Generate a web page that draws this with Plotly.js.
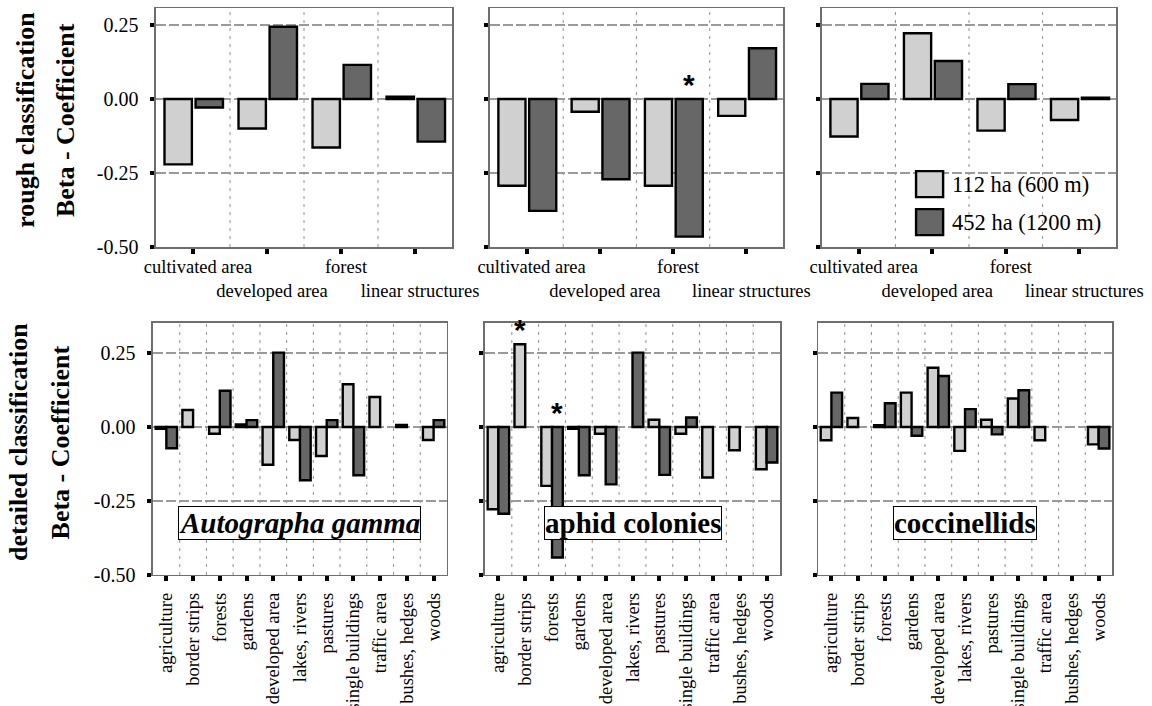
<!DOCTYPE html>
<html>
<head>
<meta charset="utf-8">
<script src="https://cdn.plot.ly/plotly-3.0.1.min.js"></script>
<style>
  html, body { margin: 0; padding: 0; background: #fff; }
  #chart { width: 1152px; height: 706px; }
</style>
</head>
<body>
<div id="chart"></div>
<script>
// ---- data -------------------------------------------------------------
const species = ['Autographa gamma', 'aphid colonies', 'coccinellids'];
const scaleNames = ['112 ha (600 m)', '452 ha (1200 m)'];

const roughCategories = ['cultivated area', 'developed area', 'forest', 'linear structures'];
const roughTickLabels = ['cultivated area', '<br>developed area', 'forest', '<br>linear structures'];

const detailCategories = ['agriculture', 'border strips', 'forests', 'gardens', 'developed area',
  'lakes, rivers', 'pastures', 'single buildings', 'traffic area', 'bushes, hedges', 'woods'];

const yTickValues = [-0.5, -0.25, 0, 0.25];
const yTickLabels = ['-0.50', '-0.25', '0.00', '0.25'];

// rough classification, beta coefficients per buffer size
const rough112Gamma = [-0.221, -0.100, -0.164, 0.008];
const rough452Gamma = [-0.029, 0.244, 0.115, -0.144];
const rough112Aphid = [-0.293, -0.043, -0.293, -0.057];
const rough452Aphid = [-0.378, -0.271, -0.465, 0.171];
const rough112Cocc  = [-0.127, 0.222, -0.107, -0.071];
const rough452Cocc  = [0.051, 0.128, 0.050, 0.004];

// detailed classification
const detail112Gamma = [-0.006, 0.057, -0.023, 0.008, -0.128, -0.044, -0.098, 0.144, 0.101, 0.007, -0.044];
const detail452Gamma = [-0.072, null, 0.122, 0.023, 0.251, -0.180, 0.023, -0.163, null, null, 0.023];
const detail112Aphid = [-0.278, 0.279, -0.199, -0.006, -0.023, null, 0.024, -0.023, -0.171, -0.079, -0.143];
const detail452Aphid = [-0.293, null, -0.441, -0.163, -0.194, 0.251, -0.162, 0.032, null, null, -0.120];
const detail112Cocc  = [-0.045, 0.030, 0.006, 0.116, 0.200, -0.081, 0.024, 0.096, -0.045, null, -0.059];
const detail452Cocc  = [0.116, null, 0.080, -0.030, 0.172, 0.060, -0.025, 0.124, null, null, -0.073];

// significant coefficients (marked with *)
const roughSig452Aphid = [false, false, true, false];
const detailSig112Aphid = [false, true, false, false, false, false, false, false, false, false, false];
const detailSig452Aphid = [false, false, true, false, false, false, false, false, false, false, false];

// ---- styling ----------------------------------------------------------
const SERIF = '"Liberation Serif", "DejaVu Serif", serif';
const SANS = '"Liberation Sans", "DejaVu Sans", sans-serif';
const LIGHT = '#d0d0d0';
const DARK = '#676767';
const FRAME = '#6e6e6e';
const GRID = '#9a9a9a';

const panels = [
  // top row
  { xa: 'x',  ya: 'y',  cats: roughCategories,  ticks: roughTickLabels, v112: rough112Gamma, v452: rough452Gamma,
    sig112: null, sig452: null, row: 0, col: 0 },
  { xa: 'x2', ya: 'y2', cats: roughCategories,  ticks: roughTickLabels, v112: rough112Aphid, v452: rough452Aphid,
    sig112: null, sig452: roughSig452Aphid, row: 0, col: 1 },
  { xa: 'x3', ya: 'y3', cats: roughCategories,  ticks: roughTickLabels, v112: rough112Cocc,  v452: rough452Cocc,
    sig112: null, sig452: null, row: 0, col: 2 },
  // bottom row
  { xa: 'x4', ya: 'y4', cats: detailCategories, ticks: detailCategories, v112: detail112Gamma, v452: detail452Gamma,
    sig112: null, sig452: null, row: 1, col: 0 },
  { xa: 'x5', ya: 'y5', cats: detailCategories, ticks: detailCategories, v112: detail112Aphid, v452: detail452Aphid,
    sig112: detailSig112Aphid, sig452: detailSig452Aphid, row: 1, col: 1 },
  { xa: 'x6', ya: 'y6', cats: detailCategories, ticks: detailCategories, v112: detail112Cocc, v452: detail452Cocc,
    sig112: null, sig452: null, row: 1, col: 2 }
];

// plot-area placement (paper fractions)
const xDomains = [
  [[0.1354, 0.3924], [0.4253, 0.6797], [0.7135, 0.9688]],
  [[0.1328, 0.3880], [0.4210, 0.6771], [0.7101, 0.9653]]
];
const yDomains = [[0.6501, 0.9882], [0.1856, 0.5429]];
const yRanges = [[-0.5, 0.306], [-0.5, 0.352]];

// bar geometry within a category slot, per row
const barGeom = [
  { w: 0.37, off112: -0.385, off452: 0.035 },
  { w: 0.40, off112: -0.40,  off452: 0.0 }
];

const traces = [];
const layout = {
  width: 1152, height: 706,
  margin: { l: 0, r: 0, t: 0, b: 0 },
  paper_bgcolor: '#fff', plot_bgcolor: '#fff',
  showlegend: false,
  barmode: 'overlay',
  font: { family: SERIF, color: '#000', size: 18 },
  shapes: [], annotations: []
};

panels.forEach((p, k) => {
  const g = barGeom[p.row];
  const suffix = k === 0 ? '' : String(k + 1);
  traces.push({
    type: 'bar', name: scaleNames[0], x: p.cats, y: p.v112, xaxis: p.xa, yaxis: p.ya,
    width: g.w, offset: g.off112,
    marker: { color: LIGHT, line: { color: '#000', width: 2.4 } }, hoverinfo: 'x+y'
  });
  traces.push({
    type: 'bar', name: scaleNames[1], x: p.cats, y: p.v452, xaxis: p.xa, yaxis: p.ya,
    width: g.w, offset: g.off452,
    marker: { color: DARK, line: { color: '#000', width: 2.4 } }, hoverinfo: 'x+y'
  });

  layout['xaxis' + suffix] = {
    domain: xDomains[p.row][p.col], anchor: p.ya,
    type: 'category', range: [-0.5, p.cats.length - 0.5],
    tickmode: 'array', tickvals: p.cats, ticktext: p.ticks,
    tickangle: p.row === 0 ? 0 : -90,
    ticks: 'outside', ticklen: 5, tickwidth: 4, tickcolor: '#000',
    ticklabelstandoff: p.row === 0 ? -3 : 4,
    ticklabelshift: p.row === 0 ? 5 : 0,
    tickfont: { family: SERIF, size: 18.5, color: '#000' },
    showline: true, mirror: true, linecolor: FRAME, linewidth: 1.5,
    showgrid: false, zeroline: false, fixedrange: true, automargin: false
  };
  layout['yaxis' + suffix] = {
    domain: yDomains[p.row], anchor: p.xa,
    range: yRanges[p.row],
    tickmode: 'array', tickvals: yTickValues, ticktext: yTickLabels,
    showticklabels: p.col === 0,
    ticks: 'outside', ticklen: 4, tickwidth: 4, tickcolor: '#000',
    ticklabelstandoff: 8,
    tickfont: { family: SERIF, size: 20, color: '#000' },
    showline: true, mirror: true, linecolor: FRAME, linewidth: 1.5,
    showgrid: true, gridcolor: GRID, gridwidth: 1.2, griddash: '10px,3px',
    zeroline: false, fixedrange: true, automargin: false
  };

  // dotted separators between category slots
  for (let i = 0; i < p.cats.length - 1; i++) {
    layout.shapes.push({
      type: 'line', layer: 'below', xref: p.xa, yref: p.ya + ' domain',
      x0: i + 0.5, x1: i + 0.5, y0: 0, y1: 1,
      line: { color: GRID, width: 1.1, dash: '3px,5px' }
    });
  }

  // significance stars
  [[p.sig112, p.v112, g.off112], [p.sig452, p.v452, g.off452]].forEach(([sig, vals, off]) => {
    if (!sig) return;
    const slot = (xDomains[p.row][p.col][1] - xDomains[p.row][p.col][0]) * 1152 / p.cats.length;
    sig.forEach((s, i) => {
      if (!s) return;
      layout.annotations.push({
        xref: p.xa, yref: p.ya, x: p.cats[i], y: Math.max(vals[i], 0),
        xshift: (off + g.w / 2) * slot, yshift: -4,
        yanchor: 'bottom', showarrow: false, text: '*',
        font: { family: SANS, size: 30, weight: 'bold', color: '#000' }
      });
    });
  });
});

// species labels in the detailed-classification row
species.forEach((name, c) => {
  const k = 4 + c;
  layout.annotations.push({
    xref: 'x' + k + ' domain', yref: 'y' + k, x: 0.5, y: -0.325,
    xanchor: 'center', yanchor: 'middle', showarrow: false, text: name,
    bgcolor: '#fff', bordercolor: '#000', borderwidth: 1, borderpad: 0,
    font: { family: SERIF, size: 29, weight: 'bold', style: c === 0 ? 'italic' : 'normal', color: '#000' }
  });
});

// legend inside the top-right panel
scaleNames.forEach((name, i) => {
  const yTop = i === 0 ? 0.318 : 0.159;
  const yBot = i === 0 ? 0.209 : 0.050;
  layout.shapes.push({
    type: 'rect', layer: 'above', xref: 'x3 domain', yref: 'y3 domain',
    x0: 0.320, x1: 0.412, y0: yBot, y1: yTop,
    fillcolor: i === 0 ? LIGHT : DARK, line: { color: '#000', width: 2.4 }
  });
  layout.annotations.push({
    xref: 'x3 domain', yref: 'y3 domain', x: 0.437, y: (yTop + yBot) / 2,
    xanchor: 'left', yanchor: 'middle', showarrow: false, text: name,
    font: { family: SERIF, size: 22.5, color: '#000' }
  });
});

// row titles
const rowTitles = [
  ['rough classification', 'Beta - Coefficient'],
  ['detailed classification', 'Beta - Coefficient']
];
const rowTitleX = [[0.0215, 0.0565], [0.0165, 0.0525]];
const rowTitleY = [0.830, 0.374];
rowTitles.forEach((pair, r) => {
  pair.forEach((t, j) => {
    layout.annotations.push({
      xref: 'paper', yref: 'paper', x: rowTitleX[r][j], y: rowTitleY[r],
      xanchor: 'center', yanchor: 'middle', textangle: -90, showarrow: false, text: t,
      font: { family: SERIF, size: 26, weight: 'bold', color: '#000' }
    });
  });
});

Plotly.newPlot('chart', traces, layout, { displayModeBar: false, staticPlot: true });
</script>
</body>
</html>
